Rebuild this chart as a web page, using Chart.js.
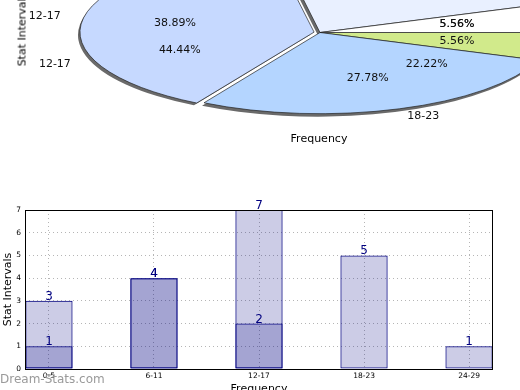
<!DOCTYPE html>
<html>
<head>
<meta charset="utf-8">
<script src="https://cdn.jsdelivr.net/npm/chart.js@4.4.1/dist/chart.umd.min.js"></script>
<style>
  html, body { margin: 0; padding: 0; width: 520px; height: 390px; overflow: hidden; background: #fff; }
  body { position: relative; font-family: "DejaVu Sans", sans-serif; }
  .abs { position: absolute; }
  .txt { position: absolute; font-size: 11px; color: #000; white-space: nowrap; text-align: center; }
</style>
</head>
<body>
<div class="abs" style="left:0;top:0;width:520px;height:400px"><canvas id="barChart"></canvas></div>
<div class="abs" style="left:0;top:0;width:520px;height:150px;overflow:hidden">
  <div id="pieBoxA" class="abs"><canvas id="pieChartA"></canvas></div>
  <div id="pieBoxB" class="abs"><canvas id="pieChartB"></canvas></div>
</div>
<div class="txt" style="left:-38px;top:23px;width:120px;transform:rotate(-90deg)">Stat Intervals</div>
<div class="txt" style="left:259px;top:132px;width:120px">Frequency</div>
<div class="abs" style="left:0;top:372px;font-size:12px;color:#9a9a9a">Dream-Stats.com</div>
<script>
// ---------- data ----------
const pieLabels = ["0-5", "6-11", "12-17", "18-23", "24-29"];
const pieCounts = [1, 4, 7, 5, 1];
const pieLabelsB = ["0-5", "6-11", "12-17", "18-23"];
const pieCountsB = [1, 5, 8, 4];
const pieColors = ["#ffffff", "#e9f0ff", "#c6d9ff", "#b4d5ff", "#d1ea8b"];

const barLabels = ["0-5", "6-11", "12-17", "18-23", "24-29"];
const lightCounts = [3, 4, 7, 5, 1];
const darkCounts = [1, 4, 2, 0, 0];
const yTicks = [0, 1, 2, 3, 4, 5, 6, 7];

// ---------- pie (squashed to an ellipse) ----------
const SQUASH = 0.35;
const RADIUS = 232;
const EXPLODE = 24;
const centerX = 320, centerY = 32;
const boxSize = 2 * RADIUS + EXPLODE + 1;
const PAGE_W = 520;

function squash(ctx, chart) {
    const cy = (chart.chartArea.top + chart.chartArea.bottom) / 2;
    ctx.translate(0, cy);
    ctx.scale(1, SQUASH);
    ctx.translate(0, -cy);
}

// same shift as the arc element uses for its offset
function shiftOf(a) {
    const off = (a.options.offset || 0) / 4;
    const circ = a.endAngle - a.startAngle;
    const fix = 1 - Math.sin(Math.min(Math.PI, circ));
    return off + off * fix;
}

const ellipsePlugin = {
    id: "ellipse",
    beforeDatasetsDraw(chart, args, opts) {
        const ctx = chart.ctx;
        const arcs = chart.getDatasetMeta(0).data;
        if (opts.shadow) {
            ctx.save();
            ctx.translate(-2, 3);
            squash(ctx, chart);
            ctx.fillStyle = "#6a6a6a";
            arcs.forEach((a) => {
                const mid = (a.startAngle + a.endAngle) / 2;
                const s = shiftOf(a);
                const x = a.x + Math.cos(mid) * s;
                const y = a.y + Math.sin(mid) * s;
                ctx.beginPath();
                ctx.moveTo(x, y);
                ctx.arc(x, y, a.outerRadius, a.startAngle, a.endAngle);
                ctx.closePath();
                ctx.fill();
            });
            ctx.restore();
        }
        ctx.save();
        squash(ctx, chart);
    },
    afterDatasetsDraw(chart, args, opts) {
        const ctx = chart.ctx;
        ctx.restore();
        const meta = chart.getDatasetMeta(0);
        const values = chart.data.datasets[0].data;
        const names = chart.data.labels;
        const total = values.reduce((s, v) => s + v, 0);
        const cy = (chart.chartArea.top + chart.chartArea.bottom) / 2;
        const boxLeft = centerX - chart.width / 2;
        ctx.save();
        ctx.font = '11px "DejaVu Sans"';
        ctx.fillStyle = "#111";
        ctx.textBaseline = "middle";
        meta.data.forEach((a, i) => {
            const mid = (a.startAngle + a.endAngle) / 2;
            const s = shiftOf(a);
            const c = Math.cos(mid), sn = Math.sin(mid);
            const r1 = s + a.outerRadius * 0.6;
            ctx.textAlign = "center";
            ctx.fillText((values[i] / total * 100).toFixed(2) + "%",
                a.x + c * r1, cy + sn * r1 * SQUASH);
            const r2 = s + a.outerRadius * 1.1;
            const lx = a.x + c * r2;
            // labels that would only show a sliver at the page edge are left out
            if (c >= 0 && boxLeft + lx + ctx.measureText(names[i]).width > PAGE_W + 20) return;
            ctx.textAlign = c >= 0 ? "left" : "right";
            ctx.fillText(names[i], lx, cy + sn * r2 * SQUASH);
        });
        ctx.restore();
    },
};

function makePie(canvasId, boxId, labels, counts, visible) {
    const box = document.getElementById(boxId);
    const boxW = 2 * centerX;
    box.style.width = boxW + "px";
    box.style.height = boxSize + "px";
    box.style.left = (centerX - boxW / 2) + "px";
    box.style.top = (centerY - boxSize / 2) + "px";
    return new Chart(document.getElementById(canvasId), {
        type: "pie",
        plugins: [ellipsePlugin],
        data: {
            // matplotlib goes counter-clockwise from east, Chart.js clockwise
            labels: labels.slice().reverse(),
            datasets: [{
                data: counts.slice().reverse(),
                backgroundColor: visible ? pieColors.slice(0, labels.length).reverse() : "rgba(0,0,0,0)",
                borderColor: visible ? "#1e1e1e" : "rgba(0,0,0,0)",
                borderWidth: 1,
                offset: (c) => (c.chart.data.labels[c.dataIndex] === "12-17" ? EXPLODE : 0),
                hoverOffset: 0,
            }],
        },
        options: {
            responsive: true,
            maintainAspectRatio: false,
            animation: false,
            rotation: 90,
            layout: { padding: 0 },
            plugins: {
                legend: { display: false },
                tooltip: { enabled: false },
                ellipse: { shadow: visible },
            },
        },
    });
}

makePie("pieChartA", "pieBoxA", pieLabels, pieCounts, true);
makePie("pieChartB", "pieBoxB", pieLabelsB, pieCountsB, false);

// ---------- bar chart ----------
const barValuePlugin = {
    id: "barValues",
    afterDatasetsDraw(chart) {
        const ctx = chart.ctx;
        ctx.save();
        ctx.font = '12px "DejaVu Sans"';
        ctx.fillStyle = "#000080";
        ctx.textAlign = "center";
        ctx.textBaseline = "alphabetic";
        chart.data.datasets.forEach((ds, di) => {
            chart.getDatasetMeta(di).data.forEach((bar, i) => {
                const v = ds.data[i].y;
                if (v > 0) ctx.fillText(String(v), bar.x, bar.y - 1);
            });
        });
        // axes frame
        const a = chart.chartArea;
        ctx.strokeStyle = "#000";
        ctx.lineWidth = 1;
        ctx.strokeRect(Math.round(a.left) + 0.5, Math.round(a.top) + 0.5,
            Math.round(a.right - a.left) - 1, Math.round(a.bottom - a.top));
        ctx.restore();
    },
};

const toPoints = (arr) => arr.map((v, i) => ({ x: i, y: v }));

const barChart = new Chart(document.getElementById("barChart"), {
    type: "bar",
    plugins: [barValuePlugin],
    data: {
        datasets: [
            {
                label: "dark",
                data: toPoints(darkCounts),
                backgroundColor: "rgba(0,0,128,0.2)",
                borderColor: "#000080",
                borderWidth: 1,
                borderSkipped: false,
            },
            {
                label: "light",
                data: toPoints(lightCounts),
                backgroundColor: "rgba(0,0,128,0.2)",
                borderColor: "#000080",
                borderWidth: 1,
                borderSkipped: false,
            },
        ],
    },
    options: {
        responsive: true,
        maintainAspectRatio: false,
        animation: false,
        layout: { padding: { top: 210, right: 27, left: 0, bottom: 0 } },
        datasets: { bar: { grouped: false, categoryPercentage: 0.9, barPercentage: 0.5 } },
        plugins: { legend: { display: false }, tooltip: { enabled: false } },
        scales: {
            x: {
                type: "linear",
                offset: false,
                min: -0.228,
                max: barLabels.length - 1 + 0.228,
                afterBuildTicks: (s) => { s.ticks = barLabels.map((_, i) => ({ value: i })); },
                afterFit: (s) => { s.height = 31; },
                ticks: {
                    callback: (v) => barLabels[v],
                    font: { size: 7.5, family: "DejaVu Sans" },
                    color: "#000",
                    padding: 3,
                    maxRotation: 0,
                    autoSkip: false,
                },
                grid: { color: "#b5b5b5", drawTicks: false, offset: false },
                border: { display: false, dash: [1, 3] },
                title: {
                    display: true,
                    text: "Frequency",
                    font: { size: 11, family: "DejaVu Sans" },
                    color: "#000",
                    padding: { top: 0, bottom: 4 },
                },
            },
            y: {
                min: 0,
                max: 7,
                afterBuildTicks: (s) => { s.ticks = yTicks.map((v) => ({ value: v })); },
                afterFit: (s) => { s.width = 25; },
                ticks: {
                    font: { size: 7.5, family: "DejaVu Sans" },
                    color: "#000",
                    padding: 4,
                },
                grid: { color: "#b5b5b5", drawTicks: false },
                border: { display: false, dash: [1, 3] },
                title: {
                    display: true,
                    text: "Stat Intervals",
                    font: { size: 11, family: "DejaVu Sans" },
                    color: "#000",
                    padding: { top: 2, bottom: 0 },
                },
            },
        },
    },
});
</script>
</body>
</html>
